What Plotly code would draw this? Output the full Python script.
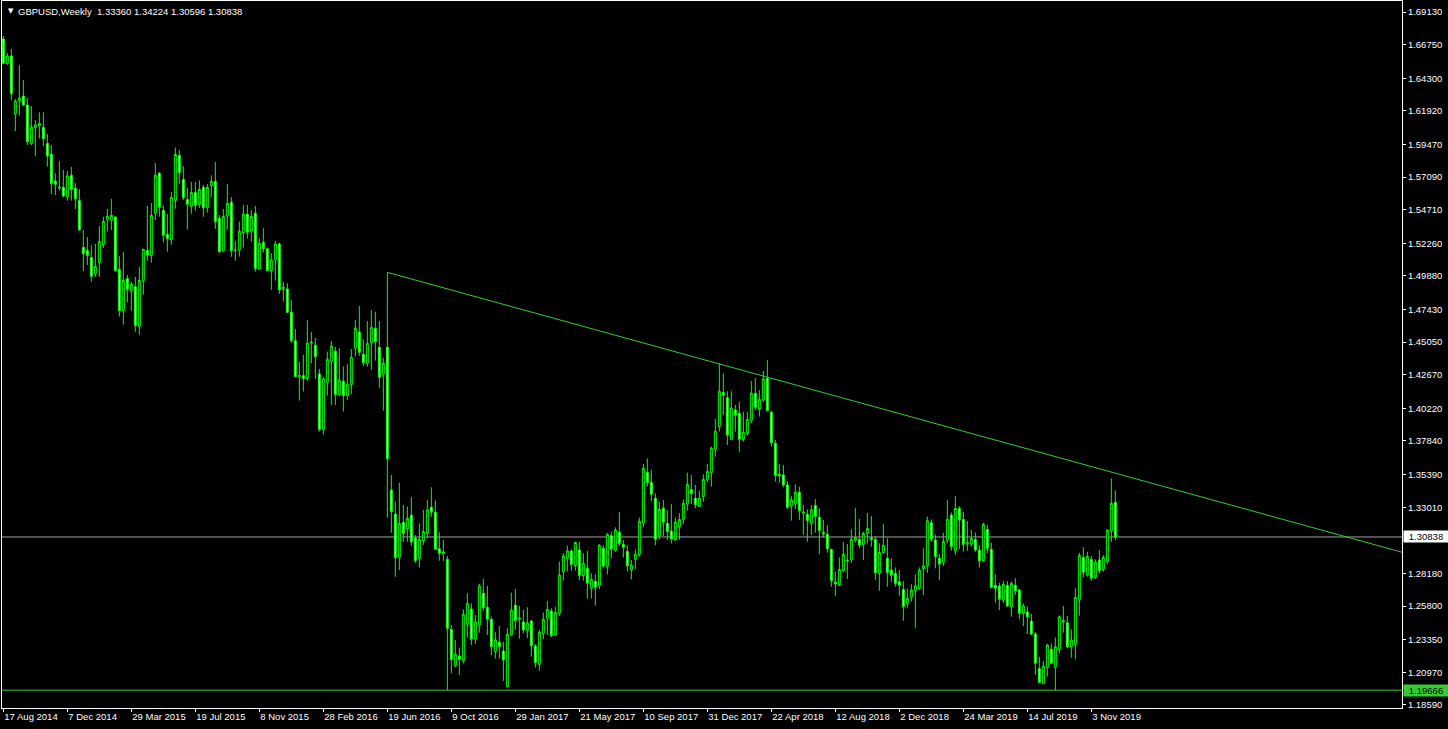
import plotly.graph_objects as go
import pandas as pd

START = "2014-08-17"  # first weekly bar

OPEN = [
1.6716, 1.6538, 1.6592, 1.6171, 1.6264, 1.6300, 1.6234, 1.5952, 1.6069, 1.6084,
1.6072, 1.5955, 1.5875, 1.5680, 1.5636, 1.5634, 1.5566, 1.5722, 1.5627, 1.5539,
1.5196, 1.5174, 1.5123, 1.5004, 1.5085, 1.5216, 1.5398, 1.5393, 1.5418, 1.5036,
1.4734, 1.4970, 1.4880, 1.4909, 1.4620, 1.4953, 1.5174, 1.5138, 1.5444, 1.5736,
1.5466, 1.5291, 1.5254, 1.5539, 1.5867, 1.5692, 1.5546, 1.5495, 1.5597, 1.5510,
1.5634, 1.5485, 1.5646, 1.5678, 1.5408, 1.5172, 1.5425, 1.5524, 1.5177, 1.5177,
1.5304, 1.5438, 1.5314, 1.5445, 1.5041, 1.5233, 1.5187, 1.5027, 1.5105, 1.5221,
1.4895, 1.4893, 1.4723, 1.4516, 1.4254, 1.4261, 1.4239, 1.4497, 1.4482, 1.4273,
1.3867, 1.4212, 1.4363, 1.4438, 1.4122, 1.4220, 1.4115, 1.4195, 1.4460, 1.4579,
1.4416, 1.4350, 1.4501, 1.4606, 1.4467, 1.4270, 1.4467, 1.3426, 1.3251, 1.2933,
1.3191, 1.3144, 1.3242, 1.3076, 1.2928, 1.3057, 1.3110, 1.3300, 1.3264, 1.2998,
1.2964, 1.2921, 1.2410, 1.2143, 1.2216, 1.2179, 1.2447, 1.2559, 1.2338, 1.2442,
1.2673, 1.2571, 1.2483, 1.2247, 1.2316, 1.2252, 1.1992, 1.2369, 1.2585, 1.2483,
1.2464, 1.2401, 1.2471, 1.2289, 1.2155, 1.2381, 1.2491, 1.2544, 1.2369, 1.2527,
1.2831, 1.2928, 1.2982, 1.2875, 1.2989, 1.2802, 1.2855, 1.2709, 1.2760, 1.2731,
1.3001, 1.2867, 1.3093, 1.2984, 1.3118, 1.3030, 1.2979, 1.2843, 1.2921, 1.2955,
1.3183, 1.3555, 1.3482, 1.3366, 1.3091, 1.3293, 1.3183, 1.3127, 1.3062, 1.3159,
1.3212, 1.3324, 1.3431, 1.3366, 1.3307, 1.3378, 1.3499, 1.3553, 1.3723, 1.3889,
1.4137, 1.4100, 1.3796, 1.4010, 1.3986, 1.3796, 1.3840, 1.3935, 1.4132, 1.4015,
1.4083, 1.4241, 1.3993, 1.3767, 1.3541, 1.3536, 1.3463, 1.3310, 1.3325, 1.3410,
1.3266, 1.3249, 1.3184, 1.3313, 1.3228, 1.3116, 1.3103, 1.2993, 1.2755, 1.2733,
1.2838, 1.2915, 1.2920, 1.3061, 1.3066, 1.3030, 1.3110, 1.3078, 1.3066, 1.2818,
1.2971, 1.2928, 1.2843, 1.2818, 1.2757, 1.2702, 1.2599, 1.2643, 1.2692, 1.2709,
1.2852, 1.2872, 1.3188, 1.3061, 1.2928, 1.2898, 1.3061, 1.3244, 1.2983, 1.3292,
1.3212, 1.3032, 1.3032, 1.3066, 1.2988, 1.2911, 1.3139, 1.2993, 1.2731, 1.2726,
1.2624, 1.2731, 1.2575, 1.2731, 1.2697, 1.2527, 1.2536, 1.2471, 1.2376, 1.2125,
1.2016, 1.2133, 1.2264, 1.2133, 1.2264, 1.2473, 1.2458, 1.2283, 1.2300, 1.2624,
1.2935, 1.2806, 1.2920, 1.2789, 1.2916, 1.2847, 1.2903, 1.3129, 1.33360]

HIGH = [
1.6738, 1.6614, 1.6643, 1.6278, 1.6526, 1.6417, 1.6286, 1.6227, 1.6125, 1.6181,
1.6181, 1.6023, 1.5943, 1.5736, 1.5826, 1.5760, 1.5753, 1.5782, 1.5666, 1.5622,
1.5323, 1.5272, 1.5213, 1.5221, 1.5352, 1.5420, 1.5476, 1.5551, 1.5422, 1.5133,
1.5162, 1.4994, 1.4946, 1.4980, 1.5053, 1.5186, 1.5498, 1.5520, 1.5811, 1.5746,
1.5502, 1.5439, 1.5600, 1.5925, 1.5906, 1.5789, 1.5629, 1.5673, 1.5673, 1.5685,
1.5651, 1.5658, 1.5721, 1.5818, 1.5432, 1.5476, 1.5658, 1.5563, 1.5242, 1.5384,
1.5506, 1.5506, 1.5469, 1.5498, 1.5263, 1.5336, 1.5190, 1.5153, 1.5243, 1.5231,
1.4944, 1.4934, 1.4813, 1.4601, 1.4361, 1.4412, 1.4667, 1.4580, 1.4536, 1.4310,
1.4251, 1.4436, 1.4514, 1.4470, 1.4460, 1.4327, 1.4344, 1.4455, 1.4666, 1.4768,
1.4525, 1.4659, 1.4739, 1.4727, 1.4659, 1.4392, 1.5014, 1.3536, 1.3341, 1.3480,
1.3317, 1.3305, 1.3375, 1.3098, 1.3183, 1.3281, 1.3354, 1.3446, 1.3349, 1.3118,
1.3062, 1.2945, 1.2442, 1.2332, 1.2277, 1.2556, 1.2673, 1.2600, 1.2515, 1.2741,
1.2778, 1.2726, 1.2503, 1.2393, 1.2435, 1.2320, 1.2418, 1.2678, 1.2705, 1.2581,
1.2551, 1.2571, 1.2478, 1.2303, 1.2406, 1.2532, 1.2617, 1.2564, 1.2576, 1.2904,
1.2965, 1.3021, 1.2994, 1.3050, 1.3050, 1.2965, 1.2982, 1.2818, 1.2811, 1.3032,
1.3023, 1.3110, 1.3122, 1.3154, 1.3266, 1.3062, 1.3023, 1.2916, 1.2994, 1.3225,
1.3616, 1.3657, 1.3572, 1.3402, 1.3339, 1.3353, 1.3280, 1.3324, 1.3227, 1.3259,
1.3358, 1.3553, 1.3536, 1.3463, 1.3421, 1.3541, 1.3616, 1.3743, 1.3945, 1.4346,
1.4278, 1.4147, 1.4147, 1.4047, 1.4071, 1.3998, 1.3996, 1.4222, 1.4244, 1.4156,
1.4295, 1.4375, 1.4006, 1.3792, 1.3616, 1.3609, 1.3492, 1.3383, 1.3468, 1.3451,
1.3317, 1.3286, 1.3317, 1.3361, 1.3293, 1.3208, 1.3171, 1.2999, 1.2830, 1.2935,
1.3047, 1.3032, 1.3139, 1.3295, 1.3215, 1.3122, 1.3258, 1.3236, 1.3091, 1.3037,
1.3178, 1.3074, 1.2928, 1.2862, 1.2843, 1.2762, 1.2709, 1.2740, 1.2811, 1.2862,
1.3001, 1.3232, 1.3212, 1.3103, 1.2959, 1.3115, 1.3353, 1.3263, 1.3382, 1.3309,
1.3268, 1.3200, 1.3134, 1.3117, 1.3025, 1.3188, 1.3171, 1.3042, 1.2813, 1.2750,
1.2762, 1.2762, 1.2760, 1.2784, 1.2706, 1.2600, 1.2575, 1.2522, 1.2393, 1.2210,
1.2179, 1.2303, 1.2308, 1.2351, 1.2510, 1.2580, 1.2507, 1.2410, 1.2709, 1.2969,
1.3008, 1.2976, 1.2945, 1.2920, 1.2988, 1.2952, 1.3140, 1.3511, 1.34224]

LOW = [
1.6533, 1.6526, 1.6271, 1.6045, 1.6157, 1.6227, 1.5943, 1.5943, 1.5862, 1.5991,
1.5935, 1.5785, 1.5585, 1.5578, 1.5610, 1.5561, 1.5537, 1.5537, 1.5476, 1.5315,
1.5024, 1.5067, 1.4946, 1.4980, 1.4980, 1.5191, 1.5311, 1.5323, 1.5019, 1.4691,
1.4632, 1.4795, 1.4734, 1.4581, 1.4559, 1.4851, 1.5099, 1.5084, 1.5395, 1.5420,
1.5233, 1.5165, 1.5216, 1.5478, 1.5661, 1.5541, 1.5325, 1.5442, 1.5464, 1.5483,
1.5420, 1.5449, 1.5561, 1.5332, 1.5157, 1.5165, 1.5325, 1.5128, 1.5099, 1.5129,
1.5195, 1.5260, 1.5238, 1.5019, 1.5032, 1.5160, 1.5019, 1.4886, 1.4954, 1.4857,
1.4801, 1.4716, 1.4502, 1.4246, 1.4079, 1.4144, 1.4224, 1.4351, 1.4234, 1.3852,
1.3830, 1.4115, 1.4047, 1.4047, 1.4113, 1.3998, 1.4083, 1.4127, 1.4399, 1.4404,
1.4331, 1.4326, 1.4302, 1.4370, 1.4173, 1.4005, 1.3225, 1.3115, 1.2794, 1.2843,
1.3050, 1.3050, 1.3020, 1.2896, 1.2860, 1.3025, 1.3074, 1.3232, 1.2989, 1.2911,
1.2908, 1.1968, 1.2089, 1.2133, 1.2077, 1.2162, 1.2349, 1.2296, 1.2303, 1.2386,
1.2547, 1.2369, 1.2223, 1.2196, 1.2196, 1.2034, 1.1985, 1.2364, 1.2406, 1.2342,
1.2381, 1.2345, 1.2211, 1.2131, 1.2109, 1.2338, 1.2369, 1.2352, 1.2362, 1.2508,
1.2765, 1.2831, 1.2838, 1.2838, 1.2770, 1.2765, 1.2634, 1.2634, 1.2583, 1.2704,
1.2860, 1.2811, 1.2928, 1.2976, 1.3018, 1.2935, 1.2831, 1.2775, 1.2848, 1.2940,
1.3154, 1.3451, 1.3346, 1.3023, 1.3066, 1.3091, 1.3062, 1.3037, 1.3057, 1.3062,
1.3178, 1.3276, 1.3324, 1.3293, 1.3305, 1.3341, 1.3485, 1.3451, 1.3670, 1.3852,
1.3974, 1.3755, 1.3792, 1.3852, 1.3706, 1.3779, 1.3823, 1.3913, 1.4006, 1.3962,
1.4071, 1.3998, 1.3743, 1.3488, 1.3480, 1.3446, 1.3288, 1.3203, 1.3288, 1.3208,
1.3099, 1.3050, 1.3099, 1.3116, 1.2958, 1.3079, 1.2969, 1.2721, 1.2653, 1.2726,
1.2830, 1.2777, 1.2896, 1.3044, 1.3001, 1.2915, 1.3037, 1.3013, 1.2770, 1.2692,
1.2964, 1.2721, 1.2757, 1.2721, 1.2655, 1.2473, 1.2563, 1.2612, 1.2422, 1.2697,
1.2660, 1.2823, 1.3049, 1.2855, 1.2770, 1.2874, 1.3037, 1.2983, 1.2952, 1.2996,
1.2976, 1.2983, 1.3013, 1.2976, 1.2860, 1.2903, 1.2964, 1.2709, 1.2604, 1.2551,
1.2604, 1.2575, 1.2502, 1.2660, 1.2483, 1.2434, 1.2376, 1.2368, 1.2077, 1.2016,
1.2011, 1.2065, 1.2155, 1.1967, 1.2235, 1.2386, 1.2271, 1.2203, 1.2191, 1.2510,
1.2789, 1.2794, 1.2765, 1.2777, 1.2818, 1.2830, 1.2886, 1.3049, 1.30596]

CLOSE = [
1.6538, 1.6592, 1.6317, 1.6264, 1.6286, 1.6234, 1.5967, 1.6074, 1.6089, 1.6101,
1.5989, 1.5862, 1.5661, 1.5656, 1.5631, 1.5571, 1.5717, 1.5619, 1.5551, 1.5325,
1.5150, 1.5135, 1.4985, 1.5058, 1.5240, 1.5386, 1.5422, 1.5430, 1.5026, 1.4734,
1.4955, 1.4890, 1.4929, 1.4625, 1.4955, 1.5182, 1.5138, 1.5430, 1.5721, 1.5488,
1.5284, 1.5259, 1.5561, 1.5874, 1.5741, 1.5558, 1.5510, 1.5597, 1.5502, 1.5619,
1.5485, 1.5634, 1.5678, 1.5383, 1.5165, 1.5422, 1.5517, 1.5172, 1.5177, 1.5314,
1.5438, 1.5306, 1.5421, 1.5041, 1.5226, 1.5187, 1.5027, 1.5105, 1.5221, 1.4886,
1.4906, 1.4723, 1.4516, 1.4254, 1.4261, 1.4239, 1.4497, 1.4504, 1.4399, 1.3867,
1.4237, 1.4380, 1.4475, 1.4122, 1.4227, 1.4115, 1.4198, 1.4395, 1.4606, 1.4431,
1.4355, 1.4496, 1.4613, 1.4508, 1.4248, 1.4350, 1.3655, 1.3268, 1.2933, 1.3183,
1.3110, 1.3220, 1.3047, 1.2911, 1.3067, 1.3123, 1.3281, 1.3264, 1.2994, 1.2964,
1.2975, 1.2417, 1.2191, 1.2228, 1.2191, 1.2520, 1.2600, 1.2338, 1.2464, 1.2726,
1.2568, 1.2483, 1.2284, 1.2333, 1.2284, 1.2187, 1.2374, 1.2551, 1.2474, 1.2493,
1.2406, 1.2457, 1.2291, 1.2167, 1.2389, 1.2483, 1.2556, 1.2364, 1.2532, 1.2807,
1.2945, 1.2982, 1.2884, 1.3043, 1.2802, 1.2892, 1.2746, 1.2775, 1.2716, 1.3023,
1.2872, 1.3103, 1.2994, 1.3135, 1.3035, 1.3008, 1.2874, 1.2879, 1.2957, 1.3198,
1.3584, 1.3480, 1.3395, 1.3066, 1.3285, 1.3191, 1.3122, 1.3069, 1.3193, 1.3212,
1.3329, 1.3468, 1.3400, 1.3319, 1.3366, 1.3504, 1.3562, 1.3731, 1.3855, 1.4147,
1.4117, 1.3826, 1.4023, 1.3971, 1.3796, 1.3847, 1.3942, 1.4132, 1.4030, 1.4088,
1.4236, 1.4006, 1.3772, 1.3532, 1.3529, 1.3463, 1.3300, 1.3354, 1.3410, 1.3276,
1.3261, 1.3203, 1.3281, 1.3232, 1.3130, 1.3106, 1.2998, 1.2765, 1.2741, 1.2847,
1.2957, 1.2911, 1.3066, 1.3078, 1.3025, 1.3110, 1.3146, 1.3066, 1.2823, 1.2971,
1.3023, 1.2823, 1.2804, 1.2745, 1.2731, 1.2575, 1.2636, 1.2697, 1.2726, 1.2843,
1.2872, 1.3202, 1.3066, 1.2940, 1.2886, 1.3052, 1.3212, 1.3013, 1.3292, 1.3207,
1.3030, 1.3042, 1.3073, 1.2988, 1.2911, 1.3176, 1.3001, 1.2716, 1.2709, 1.2629,
1.2738, 1.2580, 1.2745, 1.2692, 1.2527, 1.2580, 1.2502, 1.2376, 1.2162, 1.2023,
1.2142, 1.2296, 1.2162, 1.2283, 1.2502, 1.2466, 1.2283, 1.2332, 1.2643, 1.2950,
1.2826, 1.2942, 1.2782, 1.2901, 1.2838, 1.2935, 1.3134, 1.3329, 1.30838]

TICK_LABELS = ["17 Aug 2014", "7 Dec 2014", "29 Mar 2015", "19 Jul 2015", "8 Nov 2015",
               "28 Feb 2016", "19 Jun 2016", "9 Oct 2016", "29 Jan 2017", "21 May 2017",
               "10 Sep 2017", "31 Dec 2017", "22 Apr 2018", "12 Aug 2018", "2 Dec 2018",
               "24 Mar 2019", "14 Jul 2019", "3 Nov 2019"]
PRICE_TICKS = [1.18590, 1.20970, 1.23350, 1.25800, 1.28180, 1.33010, 1.35390, 1.37840,
               1.40220, 1.42670, 1.45050, 1.47430, 1.49880, 1.52260, 1.54710, 1.57090,
               1.59470, 1.61920, 1.64300, 1.66750, 1.69130]
BID = 1.30838
SUPPORT = 1.19666
TREND_DATES = ["2016-06-19", "2018-01-21"]
TREND_PRICES = [1.5014, 1.4346]
HEADER = "GBPUSD,Weekly  1.33360 1.34224 1.30596 1.30838"

n = len(CLOSE)
assert len(OPEN) == n and len(HIGH) == n and len(LOW) == n, (len(OPEN), len(HIGH), len(LOW), n)
HIGH = [max(h, o, c) for h, o, c in zip(HIGH, OPEN, CLOSE)]
LOW = [min(l, o, c) for l, o, c in zip(LOW, OPEN, CLOSE)]

dates = pd.date_range(START, periods=n, freq="7D")
week = pd.Timedelta(days=7)
x0 = dates[0] - 0.333 * week
x1 = x0 + 350 * week
tick_dates = [pd.to_datetime(t, format="%d %b %Y") for t in TICK_LABELS]

LIME = "#00ff00"
GREEN = "#32cd32"
FONT = "Liberation Sans"

fig = go.Figure()
fig.add_trace(go.Candlestick(
    x=dates, open=OPEN, high=HIGH, low=LOW, close=CLOSE,
    increasing=dict(line=dict(color=LIME, width=1), fillcolor="#000000"),
    decreasing=dict(line=dict(color=LIME, width=1), fillcolor="#ffffff"),
    whiskerwidth=0, showlegend=False, hoverinfo="skip"))

# trend line (ray) through two highs, extended to the right edge
t0, t1 = pd.to_datetime(TREND_DATES[0]), pd.to_datetime(TREND_DATES[1])
slope = (TREND_PRICES[1] - TREND_PRICES[0]) / ((t1 - t0) / week)
t_end = x1 + 4 * week
p_end = TREND_PRICES[0] + slope * ((t_end - t0) / week)
fig.add_trace(go.Scatter(x=[t0, t_end], y=[TREND_PRICES[0], p_end], mode="lines",
                         line=dict(color=GREEN, width=1), showlegend=False, hoverinfo="skip"))

fig.add_shape(type="line", xref="paper", x0=0, x1=1, yref="y", y0=BID, y1=BID,
              line=dict(color="#a0a0a0", width=1), layer="below")
fig.add_shape(type="line", xref="paper", x0=0, x1=1, yref="y", y0=SUPPORT, y1=SUPPORT,
              line=dict(color=GREEN, width=1))

fig.add_annotation(xref="paper", x=1, xanchor="left", xshift=1, yref="y", y=BID,
                   text=format(BID, ".5f"), showarrow=False, bgcolor="#ffffff",
                   font=dict(family=FONT, size=9.5, color="#000000"),
                   width=44, height=11, borderpad=0, align="center")
fig.add_annotation(xref="paper", x=1, xanchor="left", xshift=1, yref="y", y=SUPPORT,
                   text=format(SUPPORT, ".5f"), showarrow=False, bgcolor=GREEN,
                   font=dict(family=FONT, size=9.5, color="#000000"),
                   width=44, height=11, borderpad=0, align="center")

fig.add_annotation(xref="paper", x=0, xanchor="left", xshift=4, yref="paper", y=1,
                   yanchor="middle", yshift=-10, text="▼", showarrow=False,
                   font=dict(family="DejaVu Sans", size=7, color="#ffffff"))
fig.add_annotation(xref="paper", x=0, xanchor="left", xshift=14, yref="paper", y=1,
                   yanchor="middle", yshift=-10, text=HEADER.replace("  ", "&nbsp;&nbsp;"),
                   showarrow=False, font=dict(family=FONT, size=9.5, color="#ffffff"))

fig.update_layout(
    width=1448, height=729,
    margin=dict(l=2, r=46, t=1, b=21),
    paper_bgcolor="#000000", plot_bgcolor="#000000",
    boxgap=0.3,
    font=dict(family=FONT, size=10, color="#ffffff"),
    xaxis=dict(type="date", range=[x0, x1], tickvals=tick_dates, ticktext=TICK_LABELS,
               ticklabelposition="outside right", ticks="outside", ticklen=3,
               tickcolor="#ffffff", tickfont=dict(family=FONT, size=9.5, color="#ffffff"),
               showline=True, linecolor="#ffffff", linewidth=1, mirror=True,
               showgrid=False, zeroline=False, rangeslider=dict(visible=False),
               fixedrange=True),
    yaxis=dict(side="right", range=[1.18364, 1.69932], tickvals=PRICE_TICKS,
               ticktext=[format(v, ".5f") for v in PRICE_TICKS],
               ticks="outside", ticklen=3, tickcolor="#ffffff",
               tickfont=dict(family=FONT, size=9.5, color="#ffffff"),
               showline=True, linecolor="#ffffff", linewidth=1, mirror=True,
               showgrid=False, zeroline=False, fixedrange=True),
)

fig.write_html("out.html", config={"displayModeBar": False},
               post_script="document.body.style.margin='0';document.body.style.overflow='hidden';document.body.style.background='#000';")
